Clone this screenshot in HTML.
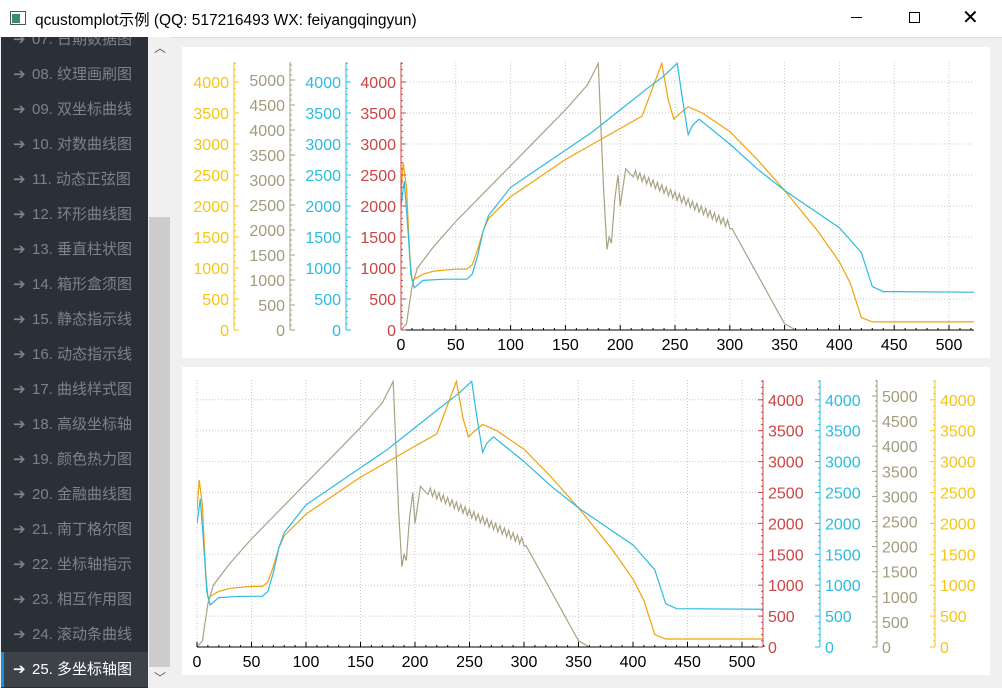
<!DOCTYPE html>
<html><head><meta charset="utf-8"><style>
body{margin:0;width:1002px;height:688px;overflow:hidden;background:#f0f0f0;font-family:"Liberation Sans","Noto Sans CJK SC",sans-serif;position:relative}
#title{position:absolute;left:0;top:0;width:1002px;height:37px;background:#fff;border-bottom:1px solid #ddd}
#title .t{position:absolute;left:35px;top:8px;font-size:15.5px;color:#000}
#side{position:absolute;left:1px;top:37px;width:147px;height:651px;background:#2b3038;overflow:hidden}
.it{position:absolute;left:0;width:147px;height:35px;color:#7d828a;font-size:15px;line-height:35px}
.it span{position:absolute;left:12px}
.it b{position:absolute;left:31px;font-weight:normal}
#sb{position:absolute;left:149px;top:37px;width:21px;height:651px;background:#f0f0f0}
.panel{position:absolute;background:#fff}
</style></head><body>
<div id="title"><svg style="position:absolute;left:10px;top:11px" width="16" height="14"><rect x="0.5" y="0.5" width="15" height="13" fill="#fff" stroke="#555"/><rect x="2" y="3" width="8" height="9" fill="#3a8a7a"/></svg><span class="t">qcustomplot示例 (QQ: 517216493 WX: feiyangqingyun)</span>
<span style="position:absolute;left:851px;top:17px;width:11px;height:1px;background:#000"></span>
<span style="position:absolute;left:909px;top:12px;width:9px;height:9px;border:1px solid #000"></span>
<span style="position:absolute;left:962px;top:5px;font-size:20px">✕</span></div>
<div id="side"></div>
<div id="sb"><div style="position:absolute;left:0;top:180px;width:21px;height:450px;background:#cdcdcd"></div>
<span style="position:absolute;left:5px;top:2px;font-size:12px;color:#555">︿</span>
<span style="position:absolute;left:5px;top:632px;font-size:12px;color:#555">﹀</span></div>
<div class="panel" style="left:182px;top:47px;width:808px;height:311px"></div>
<div class="panel" style="left:182px;top:367px;width:808px;height:308px"></div>
<svg id="c" width="1002" height="688" style="position:absolute;left:0;top:0" font-family="Liberation Sans, sans-serif" font-size="16"></svg>
<script>
var side=document.getElementById('side');
var names=["07. 日期数据图","08. 纹理画刷图","09. 双坐标曲线","10. 对数曲线图","11. 动态正弦图","12. 环形曲线图","13. 垂直柱状图","14. 箱形盒须图","15. 静态指示线","16. 动态指示线","17. 曲线样式图","18. 高级坐标轴","19. 颜色热力图","20. 金融曲线图","21. 南丁格尔图","22. 坐标轴指示","23. 相互作用图","24. 滚动条曲线","25. 多坐标轴图"];
var h='';names.forEach(function(n,i){var top=-15+i*35;var sel=i==18;
h+='<div class="it" style="top:'+top+'px;'+(sel?'background:#3d4249;color:#fff;':'')+'">'+(sel?'<i style="position:absolute;left:0;top:0;width:3px;height:35px;background:#1e90e0"></i>':'')+'<span>➔</span><b>'+n+'</b></div>';});
side.innerHTML=h;
var C={o:"#f0a30a",b:"#2bbbe0",g:"#a8a384",r:"#cc4444",y:"#f5c518",gr:"#a29c7c"};
var orange=[[0,2200],[2,2700],[5,2300],[8,1200],[10,800],[15,850],[20,900],[30,950],[50,980],[60,980],[65,1050],[70,1300],[75,1600],[80,1800],[100,2150],[125,2450],[150,2750],[175,3000],[200,3250],[220,3450],[238,4300],[244,3700],[249,3400],[255,3500],[262,3600],[275,3500],[300,3200],[325,2750],[350,2250],[380,1600],[400,1100],[410,750],[420,200],[430,130],[525,130]];
var blue=[[0,2000],[3,2400],[6,1700],[9,900],[12,680],[20,800],[40,820],[60,820],[65,900],[70,1200],[75,1600],[80,1850],[100,2300],[125,2600],[150,2900],[175,3200],[200,3550],[225,3900],[240,4100],[252,4300],[257,3700],[262,3150],[266,3300],[272,3400],[300,3000],[325,2600],[350,2250],[375,1950],[400,1650],[420,1250],[430,700],[440,620],[525,610]];
var gray=[[0,0],[5,100],[10,700],[15,1000],[30,1350],[50,1750],[75,2200],[100,2650],[125,3100],[150,3550],[170,3950],[180,4300],[183,3000],[185,2200],[188,1300],[190,1500],[192,1400],[195,2100],[198,2500],[200,2000],[205,2600],[210,2500]];
for(var x=212;x<=300;x+=2){gray.push([x,2550-(x-210)*9.5+((x/2)%2?60:-60)]);}
for(var x=302;x<=350;x+=4){gray.push([x,1700-(x-300)*32]);}
gray=gray.concat([[360,0]]);
var svg='';
function chart(P){
 var sx=function(v){return P.x0+v*P.kx}, sy=function(v){return P.y0-v*P.ky};
 for(var v=0;v<=500;v+=50){var X=sx(v);svg+='<line x1="'+X+'" y1="'+P.top+'" x2="'+X+'" y2="'+P.y0+'" stroke="#c8c8c8" stroke-dasharray="1,2"/>';}
 for(var v=500;v<=4000;v+=500){var Y=sy(v);svg+='<line x1="'+P.left+'" y1="'+Y+'" x2="'+P.right+'" y2="'+Y+'" stroke="#c8c8c8" stroke-dasharray="1,2"/>';}
 function path(d,col,k){return '<polyline fill="none" stroke="'+col+'" stroke-width="1.2" points="'+d.map(function(p){return sx(p[0]).toFixed(1)+','+sy(p[1]*(k||1)).toFixed(1)}).join(' ')+'"/>';}
 svg+='<clipPath id="cl'+P.id+'"><rect x="'+P.left+'" y="'+P.top+'" width="'+(P.right-P.left)+'" height="'+(P.y0-P.top)+'"/></clipPath><g clip-path="url(#cl'+P.id+')">';
 svg+=path(gray,C.g)+path(orange,C.o)+path(blue,C.b)+'</g>';
 svg+='<line x1="'+P.left+'" y1="'+P.y0+'" x2="'+P.right+'" y2="'+P.y0+'" stroke="#000"/>';
 for(var v=0;v<=520;v+=10){var X=sx(v);svg+='<line x1="'+X+'" y1="'+P.y0+'" x2="'+X+'" y2="'+(P.y0-(v%50?2:5))+'" stroke="#000"/>';}
 for(var v=0;v<=500;v+=50)svg+='<text x="'+sx(v)+'" y="'+(P.y0+20)+'" text-anchor="middle">'+v+'</text>';
 P.axes.forEach(function(a){
  var dir=a.side=='l'?-1:1;var k=a.k;
  svg+='<line x1="'+a.x+'" y1="'+P.top+'" x2="'+a.x+'" y2="'+P.y0+'" stroke="'+a.c+'"/>';
  for(var v=0;v*k<=P.y0-P.top;v+=a.minor){var Y=P.y0-v*k;var maj=v%a.major==0;svg+='<line x1="'+a.x+'" y1="'+Y+'" x2="'+(a.x-dir*(maj?5:2))+'" y2="'+Y+'" stroke="'+a.c+'"/>';
   if(maj)svg+='<text x="'+(a.x+dir*5)+'" y="'+(Y+6)+'" fill="'+a.c+'" text-anchor="'+(dir<0?'end':'start')+'">'+v+'</text>';}
 });
}
chart({id:1,x0:401,kx:1.096,y0:330,ky:0.062,top:62,left:401,right:974,axes:[
 {x:401,c:C.r,k:0.062,side:'l',major:500,minor:100},
 {x:346,c:C.b,k:0.062,side:'l',major:500,minor:100},
 {x:290,c:C.gr,k:0.05,side:'l',major:500,minor:100},
 {x:234,c:C.y,k:0.062,side:'l',major:500,minor:100}]});
chart({id:2,x0:197,kx:1.09,y0:647,ky:0.0618,top:380,left:197,right:763,axes:[
 {x:763,c:C.r,k:0.0618,side:'r',major:500,minor:100},
 {x:820,c:C.b,k:0.0618,side:'r',major:500,minor:100},
 {x:877,c:C.gr,k:0.0502,side:'r',major:500,minor:100},
 {x:935,c:C.y,k:0.0618,side:'r',major:500,minor:100}]});
document.getElementById('c').innerHTML=svg;
</script>
</body></html>
